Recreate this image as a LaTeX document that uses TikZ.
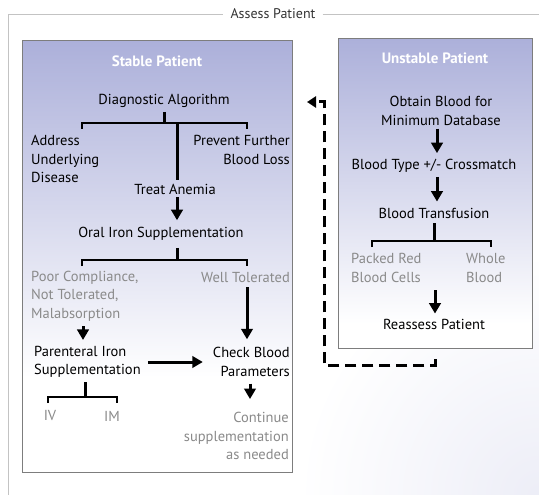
\documentclass[tikz,border=0pt]{standalone}
\usepackage{fontspec}
\setmainfont{PT Sans}
\usetikzlibrary{arrows.meta}
\definecolor{lav}{RGB}{172,176,218}
\definecolor{optgray}{RGB}{138,138,138}
\definecolor{framegray}{RGB}{195,195,195}
\definecolor{boxline}{RGB}{125,125,125}
\pgfdeclareverticalshading{stabshade}{100bp}{color(0bp)=(white); color(25bp)=(white); color(36bp)=(white); color(75bp)=(lav); color(100bp)=(lav)}
\pgfdeclareverticalshading{unstshade}{100bp}{color(0bp)=(white); color(25bp)=(white); color(29bp)=(white); color(75bp)=(lav); color(100bp)=(lav)}
\begin{document}
\begin{tikzpicture}[x=1pt,y=-1pt,
  txt/.style={inner sep=0pt, font=\fontsize{14.5}{18.5}\selectfont, text=black},
  opt/.style={txt, text=optgray},
  ttl/.style={inner sep=0pt, font=\fontsize{15}{17}\selectfont\bfseries, text=white},
  conn/.style={line width=3pt, draw=black},
  arr/.style={conn, -{Triangle[length=10.5pt,width=11.5pt]}},
  barc/.style={line width=2.8pt, line join=miter},
  dashc/.style={line width=3pt, dash pattern=on 11pt off 6pt, -{Triangle[length=9pt,width=11pt]}},
  panel/.style={draw=boxline, line width=1.1pt, inner sep=0pt},
]
\useasboundingbox (0,0) rectangle (539,495);
% background tint
\begin{scope}
\clip (8,14) rectangle (539,495);
\shade[inner color=lav!22, outer color=white] (539,495) circle (240);
\end{scope}
% outer frame
\node[txt, text=black!80, font=\fontsize{14}{16}\selectfont] (assess) at (273,14) {Assess Patient};
\draw[framegray, line width=0.9pt, shorten >=7pt] (8,495) -- (8,14) -- (assess.west);
\draw[framegray, line width=0.9pt, shorten <=7pt] (assess.east) -- (539,14);
% panels
\node[panel, shading=stabshade, minimum width=270pt, minimum height=432pt, anchor=north west] (stab) at (22,40) {};
\node[panel, shading=unstshade, minimum width=194pt, minimum height=310pt, anchor=north west] (unst) at (338,38) {};
\node[ttl] (stabT) at (157,61) {Stable Patient};
\node[ttl] (unstT) at (435,58) {Unstable Patient};
% stable contents
\node[txt] (diag) at (164,101) {Diagnostic Algorithm};
\coordinate (b1) at (164,123); \coordinate (b1l) at (82,123); \coordinate (b1r) at (247,123); \coordinate (b1t) at (177,123);
\draw[conn, shorten <=4pt] (b1 |- diag.south) -- (b1);
\draw[barc] (b1l) ++(0,6) -- (b1l) -- (b1r) -- ++(0,6);
\node[txt, anchor=west, align=left] (addr) at (31,159) {Address\\Underlying\\Disease};
\node[txt, anchor=east, align=right] (prev) at (290,150) {Prevent Further\\Blood Loss};
\node[txt] (treat) at (175,189) {Treat Anemia};
\draw[conn, shorten >=4pt] (b1t) -- (b1t |- treat.north);
\node[txt] (oral) at (161,234) {Oral Iron Supplementation};
\draw[arr, shorten <=3pt, shorten >=7pt] (b1t |- treat.south) -- (b1t |- oral.north);
\coordinate (b2) at (177,260); \coordinate (b2l) at (82,260); \coordinate (b2r) at (247,260);
\draw[conn, shorten <=7pt] (b2 |- oral.south) -- (b2);
\draw[barc] (b2l) ++(0,6) -- (b2l) -- (b2r) -- ++(0,6);
\node[opt, anchor=west, align=left] (poor) at (31,296) {Poor Compliance,\\Not Tolerated,\\Malabsorption};
\node[opt, anchor=east] (well) at (290,278) {Well Tolerated};
\node[txt, anchor=east, align=right] (check) at (290,362) {Check Blood\\Parameters};
\node[txt, anchor=west, align=left] (paren) at (34,362) {Parenteral Iron\\Supplementation};
\draw[arr, shorten <=4pt, shorten >=8pt] (b2r |- well.south) -- (b2r |- check.north);
\coordinate (px) at (83,0);
\draw[arr, shorten <=5pt, shorten >=6pt] (px |- poor.south) -- (px |- paren.north);
\draw[arr, shorten <=7pt, shorten >=10pt] (paren.east) -- (check.west);
\node[opt, anchor=east, align=right] (cont) at (289,436) {Continue\\supplementation\\as needed};
\coordinate (cx) at (250,0);
\draw[arr, shorten <=7pt, shorten >=13pt] (cx |- check.south) -- (cx |- cont.north);
\coordinate (b3) at (85,397); \coordinate (b3l) at (48,397); \coordinate (b3r) at (117,397);
\draw[conn, shorten <=4pt] (b3 |- paren.south) -- (b3);
\draw[barc] (b3l) ++(0,6) -- (b3l) -- (b3r) -- ++(0,6);
\node[opt] (iv) at (50,416) {IV};
\node[opt] (im) at (112,416) {IM};
% unstable contents
\node[txt, align=center] (obtain) at (441,111) {Obtain Blood for\\Minimum Database};
\node[txt] (cross) at (434,166) {Blood Type +/- Crossmatch};
\node[txt] (transf) at (434,213) {Blood Transfusion};
\coordinate (ux) at (437,0);
\draw[arr, shorten <=3pt, shorten >=6pt] (ux |- obtain.south) -- (ux |- cross.north);
\draw[arr, shorten <=4pt, shorten >=6pt] (ux |- cross.south) -- (ux |- transf.north);
\coordinate (b4) at (434,241); \coordinate (b4l) at (372,241); \coordinate (b4r) at (491,241);
\draw[conn, shorten <=5pt] (b4 |- transf.south) -- (b4);
\draw[barc] (b4l) ++(0,6) -- (b4l) -- (b4r) -- ++(0,6);
\node[opt, anchor=west, align=left] (packed) at (351,268) {Packed Red\\Blood Cells};
\node[opt, anchor=west, align=left] (whole) at (466,268) {Whole\\Blood};
\node[txt] (reass) at (434,324) {Reassess Patient};
\coordinate (pk) at (435,290);
\draw[arr, shorten >=5pt] (pk) -- (pk |- reass.north);
% dashed return
\coordinate (dc) at (324,365); \coordinate (dt) at (292,102);
\draw[dashc, shorten <=10pt, shorten >=15pt] (unst.south) |- (dc) |- (dt);
\end{tikzpicture}
\end{document}
